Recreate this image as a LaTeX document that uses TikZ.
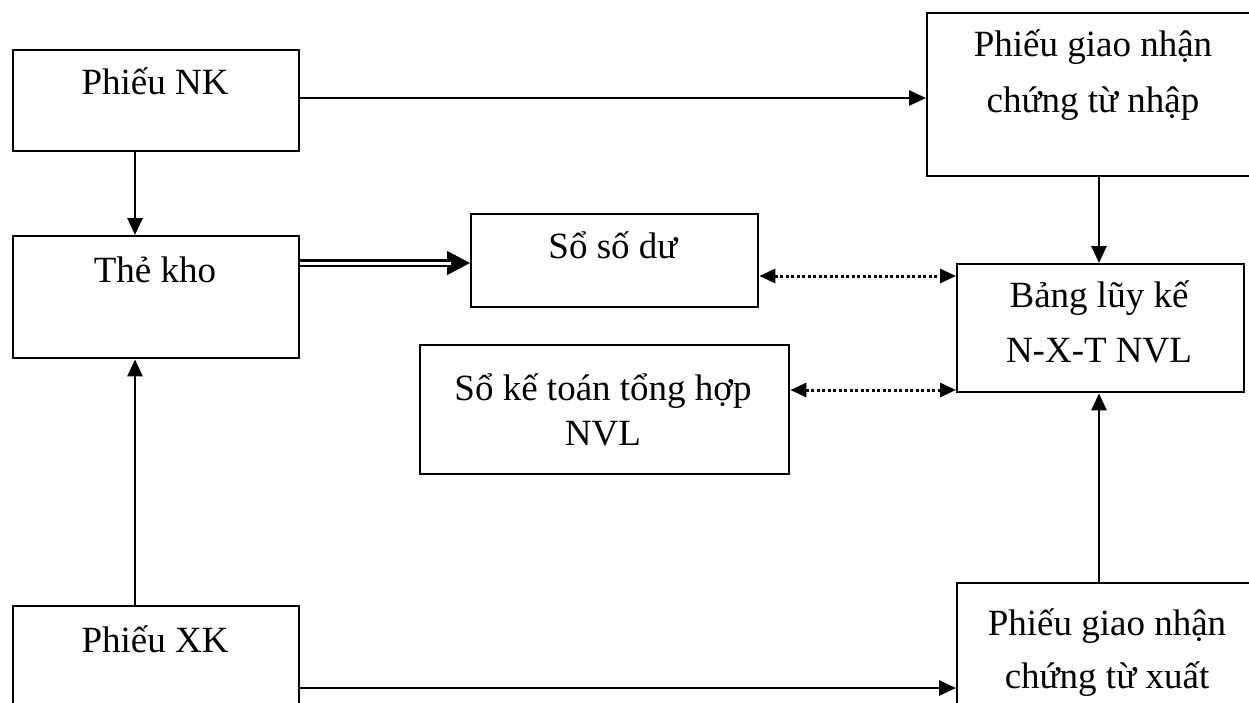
\documentclass[tikz,border=0pt]{standalone}
\usepackage{fontspec}
\setmainfont{Liberation Serif}
\usetikzlibrary{arrows.meta}
\begin{document}
\begin{tikzpicture}[x=1pt,y=-1pt,
  box/.style={draw,line width=2.4pt,inner sep=0pt,anchor=north west},
  lbl/.style={font=\fontsize{37}{44}\selectfont,anchor=base,inner sep=0pt},
  arr/.style={line width=2.7pt,-{Triangle[length=17pt,width=15pt]}},
  dotarr/.style={line width=3pt,dash pattern=on 3pt off 2.5pt,
     {Triangle[length=16pt,width=14pt]}-{Triangle[length=16pt,width=14pt]}}]
\useasboundingbox (0,0) rectangle (1249,702);
% boxes
\node[box,minimum width=286pt,minimum height=101pt] (nk) at (12,49) {};
\node[box,minimum width=340pt,minimum height=163pt] (gnn) at (926,12) {};
\node[box,minimum width=286pt,minimum height=122pt] (the) at (12,235) {};
\node[box,minimum width=287pt,minimum height=93pt] (ssd) at (470,213) {};
\node[box,minimum width=287pt,minimum height=128pt] (blk) at (956,263) {};
\node[box,minimum width=369pt,minimum height=129pt] (skt) at (419,344) {};
\node[box,minimum width=286pt,minimum height=120pt] (xk) at (12,605) {};
\node[box,minimum width=310pt,minimum height=140pt] (gnx) at (956,582) {};
% texts
\node[lbl] (tnk) at (155,94) {Phiếu NK};
\node[lbl] (tthe) at (155,282) {Thẻ kho};
\node[lbl] (tssd) at (613,258) {Sổ số dư};
\node[lbl] (tskt1) at (603,400) {Sổ kế toán tổng hợp};
\node[lbl] (tskt2) at (603,445) {NVL};
\node[lbl] (tgnn1) at (1093,56) {Phiếu giao nhận};
\node[lbl] (tgnn2) at (1093,112) {chứng từ nhập};
\node[lbl] (tblk1) at (1099,307) {Bảng lũy kế};
\node[lbl] (tblk2) at (1099,362) {N-X-T NVL};
\node[lbl] (txk) at (155,652) {Phiếu XK};
\node[lbl] (tgnx1) at (1107,635) {Phiếu giao nhận};
\node[lbl] (tgnx2) at (1107,688) {chứng từ xuất};
% helper coordinates
\coordinate (cl) at (135,0);
\coordinate (cr) at (1099,0);
\coordinate (ynk) at (0,98);
\coordinate (yxk) at (0,688);
\coordinate (yd) at (0,263);
\coordinate (y1) at (0,276);
\coordinate (y2) at (0,390);
% connectors
\draw[arr] (nk.east |- ynk) -- (gnn.west |- ynk);
\draw[arr] (nk.south -| cl) -- (the.north -| cl);
\draw[arr] (xk.north -| cl) -- (the.south -| cl);
\draw[arr] (gnn.south -| cr) -- (blk.north -| cr);
\draw[arr] (gnx.north -| cr) -- (blk.south -| cr);
\draw[arr] (xk.east |- yxk) -- (gnx.west |- yxk);
\draw[line width=1pt,-{Triangle[length=23pt,width=24pt]}] (the.east |- yd) -- (ssd.west |- yd);
\draw[line width=2.4pt,double,double distance=3pt,shorten >=19pt] (the.east |- yd) -- (ssd.west |- yd);
\draw[dotarr] (ssd.east |- y1) -- (blk.west |- y1);
\draw[dotarr] (skt.east |- y2) -- (blk.west |- y2);
\end{tikzpicture}
\end{document}
